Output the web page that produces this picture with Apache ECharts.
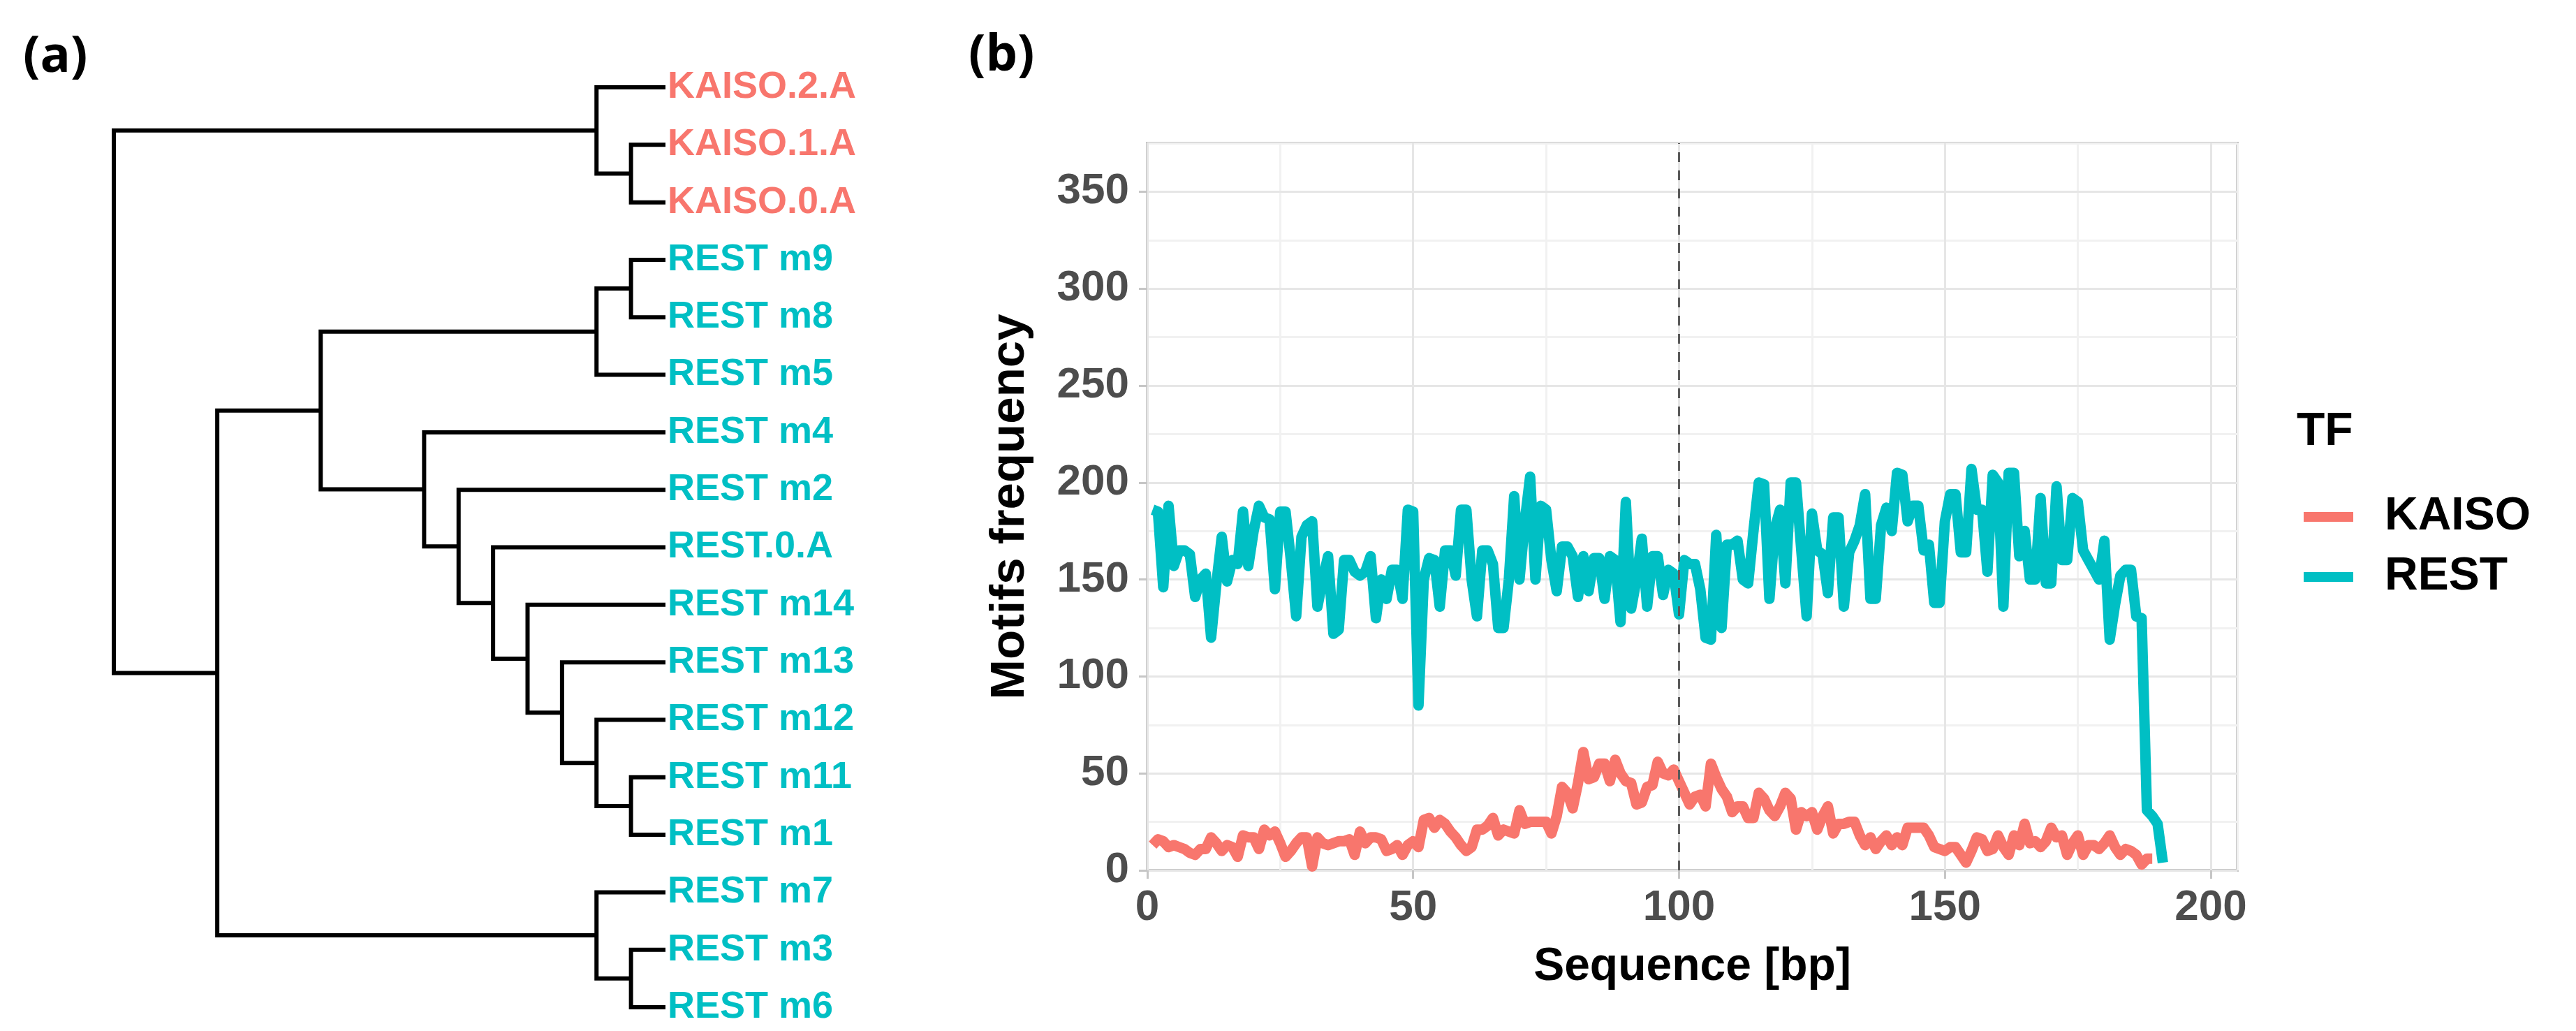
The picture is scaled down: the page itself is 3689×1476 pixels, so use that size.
<!DOCTYPE html>
<html>
<head>
<meta charset="utf-8">
<script src="https://cdn.jsdelivr.net/npm/echarts@6/dist/echarts.min.js"></script>
<style>
  html, body { margin: 0; padding: 0; background: #fff; }
  #main { width: 3689px; height: 1476px; }
</style>
</head>
<body>
<div id="main"></div>
<script>
// (a) dendrogram: leaves top to bottom, their TF, and the merge tree [height, left, right]
const leaves = ['KAISO.2.A', 'KAISO.1.A', 'KAISO.0.A', 'REST m9', 'REST m8', 'REST m5', 'REST m4', 'REST m2',
  'REST.0.A', 'REST m14', 'REST m13', 'REST m12', 'REST m11', 'REST m1', 'REST m7', 'REST m3', 'REST m6'];
const leafTF = ['KAISO', 'KAISO', 'KAISO', 'REST', 'REST', 'REST', 'REST', 'REST',
  'REST', 'REST', 'REST', 'REST', 'REST', 'REST', 'REST', 'REST', 'REST'];
const tree = [16,
  [2, 0, [1, 1, 2]],
  [13,
    [10,
      [2, [1, 3, 4], 5],
      [7, 6, [6, 7, [5, 8, [4, 9, [3, 10, [2, 11, [1, 12, 13]]]]]]]
    ],
    [2, 14, [1, 15, 16]]
  ]
];

// (b) motif frequency along the sequence (position 1..n)
const kaiso = [13, 16, 15, 12, 13, 12, 11, 9, 8, 11, 11, 17, 14, 10, 13, 12, 7, 18, 17, 17,
  11, 21, 18, 20, 14, 7, 10, 14, 17, 17, 2, 17, 14, 13, 14, 15, 15, 16, 8, 20,
  14, 17, 17, 16, 10, 11, 13, 8, 13, 15, 12, 26, 27, 22, 26, 24, 20, 17, 13, 10,
  12, 21, 21, 23, 27, 18, 21, 20, 19, 31, 24, 25, 25, 25, 25, 19, 28, 43, 40, 32,
  45, 61, 47, 48, 55, 55, 46, 57, 50, 46, 45, 34, 35, 43, 44, 56, 50, 49, 52, 46,
  40, 34, 38, 39, 33, 55, 48, 42, 38, 30, 33, 33, 27, 27, 40, 37, 31, 28, 33, 40,
  37, 21, 30, 28, 30, 21, 28, 33, 19, 24, 24, 25, 25, 18, 13, 17, 11, 15, 18, 13,
  17, 13, 22, 22, 22, 22, 18, 12, 11, 10, 12, 12, 8, 4, 10, 17, 16, 10, 11, 18,
  12, 8, 18, 13, 24, 14, 15, 12, 15, 22, 17, 18, 8, 14, 18, 8, 13, 13, 11, 14,
  18, 12, 8, 11, 10, 8, 3, 6, 6];
const rest = [186, 185, 146, 188, 157, 165, 165, 163, 141, 150, 153, 120, 148, 172, 149, 160, 158, 185, 157, 175,
  188, 182, 181, 145, 185, 185, 160, 131, 172, 178, 180, 136, 150, 162, 122, 124, 160, 160, 154, 152,
  154, 162, 130, 150, 140, 155, 155, 140, 186, 185, 85, 150, 161, 160, 136, 165, 165, 152, 186, 186,
  150, 131, 165, 165, 158, 125, 125, 150, 193, 150, 180, 203, 150, 188, 186, 160, 144, 167, 167, 162,
  141, 162, 144, 161, 161, 140, 162, 160, 128, 190, 135, 150, 171, 136, 162, 162, 142, 155, 153, 132,
  160, 158, 158, 145, 120, 119, 173, 125, 168, 168, 170, 150, 148, 175, 200, 199, 140, 176, 186, 148,
  200, 200, 165, 131, 184, 165, 163, 143, 182, 182, 136, 164, 170, 178, 194, 140, 140, 178, 187, 175,
  205, 204, 180, 188, 188, 165, 168, 138, 138, 180, 194, 194, 164, 164, 207, 186, 186, 154, 204, 200,
  136, 205, 205, 162, 175, 150, 150, 192, 148, 148, 198, 160, 160, 192, 190, 165, 160, 155, 150, 170,
  119, 137, 152, 155, 155, 131, 130, 31, 28, 24, 4];
const xTicks = [0, 50, 100, 150, 200];
const yTicks = [0, 50, 100, 150, 200, 250, 300, 350];
const centerLine = 100;

const TF_COLORS = { KAISO: '#F8766D', REST: '#00BFC4' };
const FONT = 'Liberation Sans, Arial, sans-serif';

// dendrogram segments (one U per merge)
const segs = [];
const place = (node) => {
  if (typeof node === 'number') return { h: 0, y: node };
  const [h, a, b] = node;
  const A = place(a);
  const B = place(b);
  segs.push({ coords: [[A.h, A.y], [h, A.y], [h, B.y], [B.h, B.y]] });
  return { h, y: (A.y + B.y) / 2 };
};
place(tree);

const toXY = (vals) => vals.map((v, i) => [i + 1, v]);

const chart = echarts.init(document.getElementById('main'));

chart.setOption({
  animation: false,
  backgroundColor: '#fff',
  title: [
    { text: '(a)', left: 33, top: 46, padding: 0,
      textStyle: { fontFamily: 'Open Sans', fontWeight: 'bold', fontSize: 72, color: '#000' } },
    { text: '(b)', left: 1387, top: 44, padding: 0,
      textStyle: { fontFamily: 'Open Sans', fontWeight: 'bold', fontSize: 72, color: '#000' } },
    { text: 'TF', left: 3289, top: 586, padding: 0,
      textStyle: { fontFamily: FONT, fontWeight: 'bold', fontSize: 66, color: '#000' } },
  ],
  legend: {
    data: ['KAISO', 'REST'],
    orient: 'vertical',
    left: 3294,
    top: 702,
    icon: 'rect',
    itemWidth: 71,
    itemHeight: 14,
    itemGap: 20,
    textStyle: { fontFamily: FONT, fontWeight: 'bold', fontSize: 66, color: '#000', padding: [0, 0, 0, 40] },
  },
  grid: [
    { left: 163, top: 125, width: 790, height: 1317, show: false },
    { left: 1643, top: 205, width: 1561, height: 1041, show: true,
      borderColor: '#C6C6C6', borderWidth: 4, backgroundColor: 'transparent' },
  ],
  xAxis: [
    { // dendrogram height
      type: 'value', gridIndex: 0, min: 0, max: 16, inverse: true, show: false,
    },
    { // minor vertical grid
      type: 'value', gridIndex: 1, position: 'top', min: 0, max: 205, interval: 25, z: 0,
      axisLine: { show: false }, axisTick: { show: false }, axisLabel: { show: false },
      splitLine: { show: true, lineStyle: { color: '#F1F1F1', width: 3 } },
    },
    { // sequence position
      type: 'value', gridIndex: 1, position: 'bottom', min: 0, max: 205, interval: 50, z: 1,
      name: 'Sequence [bp]', nameLocation: 'middle', nameGap: 106,
      nameTextStyle: { fontFamily: FONT, fontWeight: 'bold', fontSize: 66, color: '#000' },
      axisLine: { show: false },
      axisTick: { show: true, length: 12, customValues: xTicks, lineStyle: { color: '#C6C6C6', width: 3 } },
      axisLabel: { customValues: xTicks, margin: 23,
        fontFamily: FONT, fontWeight: 'bold', fontSize: 62, color: '#4D4D4D' },
      splitLine: { show: true, lineStyle: { color: '#E6E6E6', width: 3 } },
    },
  ],
  yAxis: [
    { // dendrogram leaves
      type: 'value', gridIndex: 0, min: 0, max: leaves.length - 1, interval: 1, inverse: true, position: 'right',
      axisLine: { show: false }, axisTick: { show: false }, splitLine: { show: false },
      axisLabel: {
        margin: 3, fontFamily: FONT, fontWeight: 'bold', fontSize: 54,
        formatter: (v) => (leafTF[v] === 'KAISO' ? '{k|' : '{r|') + leaves[v] + '}',
        rich: {
          k: { color: TF_COLORS.KAISO, fontFamily: FONT, fontWeight: 'bold', fontSize: 54 },
          r: { color: TF_COLORS.REST, fontFamily: FONT, fontWeight: 'bold', fontSize: 54 },
        },
      },
    },
    { // minor horizontal grid
      type: 'value', gridIndex: 1, position: 'right', min: 0, max: 375, interval: 25, z: 0,
      axisLine: { show: false }, axisTick: { show: false }, axisLabel: { show: false },
      splitLine: { show: true, lineStyle: { color: '#F1F1F1', width: 3 } },
    },
    { // motif frequency
      type: 'value', gridIndex: 1, position: 'left', min: 0, max: 375, interval: 50, z: 1,
      name: 'Motifs frequency', nameLocation: 'middle', nameGap: 162, nameRotate: 90,
      nameTextStyle: { fontFamily: FONT, fontWeight: 'bold', fontSize: 69, color: '#000' },
      axisLine: { show: false },
      axisTick: { show: true, length: 12, customValues: yTicks, lineStyle: { color: '#C6C6C6', width: 3 } },
      axisLabel: { customValues: yTicks, margin: 26,
        fontFamily: FONT, fontWeight: 'bold', fontSize: 62, color: '#4D4D4D' },
      splitLine: { show: true, lineStyle: { color: '#E6E6E6', width: 3 } },
    },
  ],
  series: [
    {
      name: 'dendrogram',
      type: 'lines',
      coordinateSystem: 'cartesian2d',
      xAxisIndex: 0,
      yAxisIndex: 0,
      polyline: true,
      silent: true,
      lineStyle: { color: '#000', width: 6, opacity: 1 },
      data: segs,
    },
    {
      name: 'center',
      type: 'line',
      xAxisIndex: 2,
      yAxisIndex: 2,
      data: [],
      z: 1,
      markLine: {
        silent: true,
        symbol: 'none',
        label: { show: false },
        lineStyle: { color: '#5A5A5A', width: 3, type: [14, 12] },
        data: [{ xAxis: centerLine }],
      },
    },
    {
      name: 'KAISO',
      type: 'line',
      xAxisIndex: 2,
      yAxisIndex: 2,
      z: 3,
      showSymbol: false,
      color: TF_COLORS.KAISO,
      lineStyle: { color: TF_COLORS.KAISO, width: 15, join: 'round', cap: 'butt' },
      data: toXY(kaiso),
    },
    {
      name: 'REST',
      type: 'line',
      xAxisIndex: 2,
      yAxisIndex: 2,
      z: 4,
      showSymbol: false,
      color: TF_COLORS.REST,
      lineStyle: { color: TF_COLORS.REST, width: 15, join: 'round', cap: 'butt' },
      data: toXY(rest),
    },
  ],
});
</script>
</body>
</html>
